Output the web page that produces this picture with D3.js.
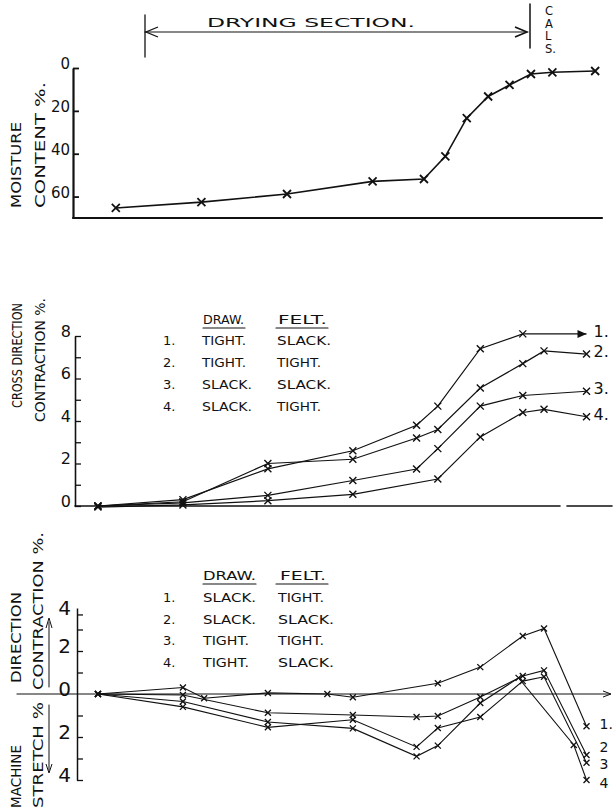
<!DOCTYPE html>
<html><head><meta charset="utf-8">
<script src="https://cdn.jsdelivr.net/npm/d3@7"></script>
<style>body{margin:0;background:#fff}svg{display:block}</style>
</head><body>
<svg id="c" width="613" height="810"></svg>
<script>
// ---------- DATA ----------
// Panel 1: moisture content along the machine
const moisturePos  = [0, 1, 2, 3, 3.6, 3.85, 4.1, 4.35, 4.6, 4.85, 5.1, 5.6];
const moistureVals = [65.3, 62.6, 58.8, 52.9, 51.8, 41.2, 23.4, 13.3, 7.9, 2.8, 2.0, 1.4];
const moistureTicks = [0, 20, 40, 60];

// Panel 2: cross direction contraction %
const crossPos = [0, 1, 2, 3, 3.75, 4, 4.5, 5, 5.25, 5.75];
const cross1 = [0, 0.3, 1.75, 2.6, 3.8, 4.7, 7.4, 8.1, null, 8.1];
const cross2 = [0, 0.2, 2.0, 2.2, 3.2, 3.6, 5.55, 6.7, 7.3, 7.15];
const cross3 = [0, 0.15, 0.5, 1.2, 1.74, 2.7, 4.7, 5.2, null, 5.4];
const cross4 = [-0.05, 0.05, 0.25, 0.55, null, 1.27, 3.25, 4.4, 4.55, 4.2];
const crossTicks = [0, 2, 4, 6, 8];
const crossLegend = [["TIGHT.", "SLACK."], ["TIGHT.", "TIGHT."], ["SLACK.", "SLACK."], ["SLACK.", "TIGHT."]];

// Panel 3: machine direction contraction (+) / stretch (-) %
const machPos = [0, 1, 1.25, 2, 2.7, 3, 3.75, 4, 4.5, 4.95, 5, 5.25, 5.6, 5.75];
const mach1 = [0, 0.3, -0.2, 0.05, 0, -0.15, null, 0.5, 1.25, null, 2.7, 3.05, null, -1.5];
const mach2 = [0, -0.05, null, -0.87, null, -0.98, -1.07, -1.02, -0.14, null, 0.84, 1.1, null, -2.84];
const mach3 = [0, -0.6, null, -1.55, null, -1.2, -2.46, -1.58, -1.07, null, 0.6, 0.8, null, -3.2];
const mach4 = [0, -0.35, null, -1.3, null, -1.6, -2.9, -2.4, -0.42, 0.75, null, null, -2.37, -4.0];
const machTicks = [4, 2, 0, -2, -4];
const machLegend = [["SLACK.", "TIGHT."], ["SLACK.", "SLACK."], ["TIGHT.", "TIGHT."], ["TIGHT.", "SLACK."]];

// ---------- DRAWING ----------
const svg = d3.select("#c");
const FONT = "'DejaVu Sans', sans-serif";
const ink = "#111";

function pts(pos, vals) {
  return pos.map((p, i) => [p, vals[i]]).filter(d => d[1] !== null);
}
function crosses(g, data, x, y, s, sw) {
  g.selectAll(null).data(data).join("path")
    .attr("transform", d => `translate(${x(d[0])},${y(d[1])})`)
    .attr("d", `M${-s},${-s}L${s},${s}M${-s},${s}L${s},${-s}`)
    .attr("stroke", ink).attr("stroke-width", sw).attr("fill", "none");
}
function txt(t, x, y, size, opts = {}) {
  const e = svg.append("text").attr("x", x).attr("y", y).text(t)
    .attr("font-family", FONT).attr("font-size", size).attr("fill", ink);
  if (opts.len) e.attr("textLength", opts.len).attr("lengthAdjust", "spacingAndGlyphs");
  if (opts.anchor) e.attr("text-anchor", opts.anchor);
  if (opts.rot) e.attr("transform", `rotate(-90,${x},${y})`);
  return e;
}
function line(x1, y1, x2, y2, w) {
  svg.append("line").attr("x1", x1).attr("y1", y1).attr("x2", x2).attr("y2", y2)
    .attr("stroke", ink).attr("stroke-width", w).attr("stroke-linecap", "round");
}

// ---- header: drying section ----
line(145, 15, 145, 57, 1.3);
line(145, 32, 527, 32, 1.1);
svg.append("path").attr("d", "M158,27L146,32L158,37").attr("fill", "none").attr("stroke", ink).attr("stroke-width", 1.3);
svg.append("path").attr("d", "M515,27L527,32L515,37").attr("fill", "none").attr("stroke", ink).attr("stroke-width", 1.6);
line(530, 4, 530, 48, 1.5);
txt("DRYING SECTION.", 207, 27, 13, { len: 208 });
["C", "A", "L", "S."].forEach((c, i) => txt(c, 545, 15 + i * 12.5, 11.5));

// ---- panel 1 ----
const x1 = d3.scaleLinear().domain([-0.5, 5.68]).range([73, 602]);
const y1 = d3.scaleLinear().domain([0, 70]).range([68, 218]);
const g1 = svg.append("g");
line(73, 218, 602, 218, 2.2);
const ax1 = g1.append("g").attr("transform", "translate(73,0)")
  .call(d3.axisLeft(y1).tickValues(moistureTicks).tickSizeInner(-6).tickSizeOuter(0).tickPadding(3));
ax1.select(".domain").attr("stroke", ink).attr("stroke-width", 2.2);
ax1.selectAll(".tick line").attr("stroke", ink).attr("stroke-width", 1.8);
ax1.selectAll(".tick text").attr("font-family", FONT).attr("font-size", 15).attr("fill", ink)
  .attr("transform", "translate(0,-4)");
g1.append("path").datum(pts(moisturePos, moistureVals))
  .attr("d", d3.line().x(d => x1(d[0])).y(d => y1(d[1])))
  .attr("fill", "none").attr("stroke", ink).attr("stroke-width", 1.6);
crosses(g1, pts(moisturePos, moistureVals), x1, y1, 4, 1.8);
txt("MOISTURE", 21, 208, 14, { rot: true, len: 86 });
txt("CONTENT %.", 45, 208, 14, { rot: true, len: 126 });

// ---- panel 2 ----
const x2 = d3.scaleLinear().domain([-0.27, 6.05]).range([75, 612]);
const y2 = d3.scaleLinear().domain([0, 8]).range([506, 336]);
const g2 = svg.append("g");
line(75, 506, 560, 506, 1.6);
line(567, 506, 612, 506, 1.6);
const ax2 = g2.append("g").attr("transform", "translate(75,0)")
  .call(d3.axisLeft(y2).tickValues(d3.range(0, 9)).tickSizeInner(-6).tickSizeOuter(0).tickPadding(4)
    .tickFormat(d => crossTicks.includes(d) ? d : ""));
ax2.select(".domain").attr("stroke", ink).attr("stroke-width", 1.6);
ax2.selectAll(".tick line").attr("stroke", ink).attr("stroke-width", 1.3);
ax2.selectAll(".tick text").attr("font-family", FONT).attr("font-size", 16).attr("fill", ink)
  .attr("transform", "translate(0,-5)");
const crossSeries = [cross1, cross2, cross3, cross4];
crossSeries.forEach((s, i) => {
  const p = pts(crossPos, s);
  g2.append("path").datum(p)
    .attr("d", d3.line().x(d => x2(d[0])).y(d => y2(d[1])))
    .attr("fill", "none").attr("stroke", ink).attr("stroke-width", 1.2);
  crosses(g2, i === 0 ? p.slice(0, -1) : p, x2, y2, 3.5, 1.4);
  const last = p[p.length - 1];
  txt((i + 1) + ".", x2(last[0]) + 7, y2(last[1]) + 3, 16);
});
{ // arrowhead on series 1
  const p = pts(crossPos, cross1); const l = p[p.length - 1];
  const ex = x2(l[0]), ey = y2(l[1]);
  svg.append("path").attr("d", `M${ex},${ey}L${ex - 9},${ey - 4}L${ex - 9},${ey + 4}Z`).attr("fill", ink);
}
txt("DRAW.", 203, 324, 12, { len: 41 }); line(203, 328, 245, 328, 1.1);
txt("FELT.", 278, 324, 12, { len: 49 }); line(276, 328, 328, 328, 1.1);
crossLegend.forEach((r, i) => {
  const yy = 345 + i * 22;
  txt((i + 1) + ".", 163, yy, 13);
  txt(r[0], 202, yy, 13, { len: r[0] === "TIGHT." ? 44 : 50 });
  txt(r[1], 277, yy, 13, { len: r[1] === "TIGHT." ? 44 : 54 });
});
txt("CROSS DIRECTION", 22, 408, 14, { rot: true, len: 105 });
txt("CONTRACTION %.", 45, 422, 14, { rot: true, len: 124 });

// ---- panel 3 ----
const x3 = d3.scaleLinear().domain([-0.27, 6.05]).range([75, 612]);
const y3 = d3.scaleLinear().domain([-4, 4]).range([780, 608]);
const g3 = svg.append("g");
line(17, y3(0), 610, y3(0), 1.2);
svg.append("path").attr("d", `M603,${y3(0) - 3}L611,${y3(0)}L603,${y3(0) + 3}`).attr("fill", "none").attr("stroke", ink).attr("stroke-width", 1);
const ax3 = g3.append("g").attr("transform", "translate(77,0)")
  .call(d3.axisLeft(y3).tickValues([3.7, 3, 2, 1, -1, -2, -3, -4]).tickSizeInner(-6).tickSizeOuter(0).tickFormat(""));
ax3.select(".domain").attr("stroke", ink).attr("stroke-width", 1.5);
ax3.selectAll(".tick line").attr("stroke", ink).attr("stroke-width", 1.3);
machTicks.forEach(v => txt(Math.abs(v), 71, y3(v) - (v === 4 ? 0 : 5) + 7, 20, { anchor: "end" }));
const machSeries = [mach1, mach2, mach3, mach4];
const machLabelOff = [3, -3, 6, 8];
machSeries.forEach((s, i) => {
  const p = pts(machPos, s);
  g3.append("path").datum(p)
    .attr("d", d3.line().x(d => x3(d[0])).y(d => y3(d[1])))
    .attr("fill", "none").attr("stroke", ink).attr("stroke-width", 1.1);
  crosses(g3, p, x3, y3, 3, 1.3);
  const last = p[p.length - 1];
  txt((i + 1) + (i === 0 ? "." : ""), x3(last[0]) + 13, y3(last[1]) + machLabelOff[i], 14);
});
txt("DRAW.", 203, 580, 12, { len: 53 }); line(203, 584, 256, 584, 1.1);
txt("FELT.", 280, 580, 12, { len: 46 }); line(276, 584, 328, 584, 1.1);
machLegend.forEach((r, i) => {
  const yy = 602 + i * 21.7;
  txt((i + 1) + ".", 163, yy, 13);
  txt(r[0], 203, yy, 13, { len: r[0] === "TIGHT." ? 46 : 53 });
  txt(r[1], 278, yy, 13, { len: r[1] === "TIGHT." ? 46 : 56 });
});
txt("DIRECTION", 21, 683, 14, { rot: true, len: 91 });
txt("CONTRACTION %.", 43, 690, 14, { rot: true, len: 158 });
txt("MACHINE", 21, 808, 14, { rot: true, len: 63 });
txt("STRETCH %", 43, 808, 14, { rot: true, len: 106 });
line(49, 687, 49, 622, 1);
svg.append("path").attr("d", "M46,628L49,618L52,628").attr("fill", "none").attr("stroke", ink).attr("stroke-width", 1);
line(49, 705, 49, 770, 1);
svg.append("path").attr("d", "M46,764L49,773L52,764").attr("fill", "none").attr("stroke", ink).attr("stroke-width", 1);
</script>
</body></html>
